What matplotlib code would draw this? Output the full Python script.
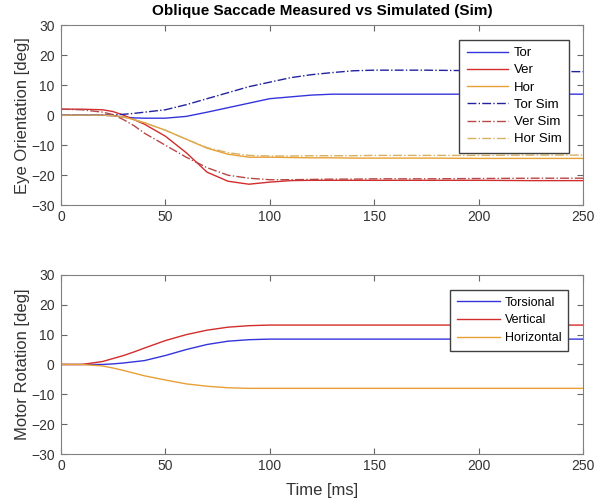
import matplotlib
matplotlib.use("Agg")
import matplotlib.pyplot as plt

plt.rcParams['font.family'] = ['Liberation Sans', 'DejaVu Sans']

# time axis [ms]
t = [0, 10, 20, 25, 30, 35, 40, 50, 60, 70, 80, 90, 100, 110, 120, 130, 140, 150, 175, 200, 225, 250]

# eye orientation, measured
tor = [0, 0, 0, -0.2, -0.6, -0.9, -1.0, -1.0, -0.4, 1.0, 2.5, 4.0, 5.5, 6.1, 6.7, 7.0, 7.0, 7.0, 7.0, 7.0, 7.0, 7.0]
ver = [2.0, 2.0, 1.8, 1.2, 0.0, -1.5, -3.0, -7.0, -12.5, -19.0, -22.0, -23.0, -22.3, -21.8, -21.7, -21.7, -21.7, -21.7, -21.7, -21.7, -21.8, -21.8]
hor = [0, 0, 0, -0.2, -0.6, -1.5, -2.5, -5.0, -8.0, -11.0, -13.0, -14.0, -14.0, -14.1, -14.2, -14.2, -14.3, -14.3, -14.3, -14.4, -14.4, -14.4]

# eye orientation, simulated
tor_sim = [0, 0, 0, 0.1, 0.3, 0.6, 1.0, 1.8, 3.5, 5.5, 7.5, 9.5, 11.0, 12.5, 13.5, 14.2, 14.8, 15.0, 15.0, 14.8, 14.6, 14.5]
ver_sim = [2.0, 1.8, 1.0, 0.2, -1.5, -3.5, -6.0, -10.0, -14.0, -17.5, -20.0, -21.0, -21.5, -21.5, -21.4, -21.3, -21.3, -21.2, -21.2, -21.1, -21.0, -21.0]
hor_sim = [0, 0, 0, -0.2, -0.6, -1.5, -2.5, -5.0, -8.0, -10.8, -12.5, -13.4, -13.6, -13.6, -13.5, -13.5, -13.5, -13.4, -13.4, -13.4, -13.3, -13.3]

# motor rotation
torsional = [0, 0, 0, 0.2, 0.5, 0.9, 1.3, 3.0, 5.0, 6.7, 7.8, 8.3, 8.5, 8.5, 8.5, 8.5, 8.5, 8.5, 8.5, 8.5, 8.5, 8.5]
vertical = [0, 0, 1.0, 2.0, 3.0, 4.2, 5.5, 8.0, 10.0, 11.5, 12.5, 13.0, 13.2, 13.2, 13.2, 13.2, 13.2, 13.2, 13.2, 13.2, 13.2, 13.2]
horizontal = [0, 0, -0.5, -1.2, -2.0, -2.9, -3.8, -5.2, -6.5, -7.3, -7.8, -8.0, -8.0, -8.0, -8.0, -8.0, -8.0, -8.0, -8.0, -8.0, -8.0, -8.0]

c_tor = '#3434dc'
c_ver = '#d22c2c'
c_hor = '#e8a035'
c_tor_sim = '#22229e'
c_ver_sim = '#b84848'
c_hor_sim = '#d8b060'
txt = '#333333'

fig = plt.figure(figsize=(6.03, 5.03), dpi=100)
ax1 = fig.add_axes([0.101, 0.592, 0.866, 0.358])
ax2 = fig.add_axes([0.101, 0.0974, 0.866, 0.356])

ax1.plot(t, tor, color=c_tor, lw=1, label='Tor')
ax1.plot(t, ver, color=c_ver, lw=1, label='Ver')
ax1.plot(t, hor, color=c_hor, lw=1, label='Hor')
ax1.plot(t, tor_sim, color=c_tor_sim, lw=1, ls='-.', label='Tor Sim')
ax1.plot(t, ver_sim, color=c_ver_sim, lw=1, ls='-.', label='Ver Sim')
ax1.plot(t, hor_sim, color=c_hor_sim, lw=1, ls='-.', label='Hor Sim')
ax1.set_title('Oblique Saccade Measured vs Simulated (Sim)', fontsize=11, fontweight='bold', pad=7)
ax1.set_ylabel('Eye Orientation [deg]', fontsize=12, labelpad=1, color=txt)

ax2.plot(t, torsional, color=c_tor, lw=1, label='Torsional')
ax2.plot(t, vertical, color=c_ver, lw=1, label='Vertical')
ax2.plot(t, horizontal, color=c_hor, lw=1, label='Horizontal')
ax2.set_ylabel('Motor Rotation [deg]', fontsize=12, labelpad=1, color=txt)
ax2.set_xlabel('Time [ms]', fontsize=12, labelpad=7, color=txt)

for ax in (ax1, ax2):
    ax.set_xlim(0, 250)
    ax.set_ylim(-30, 30)
    ax.set_xticks([0, 50, 100, 150, 200, 250])
    ax.set_yticks([-30, -20, -10, 0, 10, 20, 30])
    ax.tick_params(direction='in', top=True, right=True, labelsize=10,
                   colors='#666666', labelcolor=txt, length=4)
    ax.tick_params(axis='y', pad=4.5)
    for s in ax.spines.values():
        s.set_color('#808080')

leg1 = ax1.legend(loc='upper right', fontsize=9.5, fancybox=False, framealpha=1,
                  edgecolor='#404040', borderaxespad=1.1, borderpad=0.55,
                  handlelength=3.1, handletextpad=0.45, labelspacing=0.38)
leg1.get_frame().set_linewidth(1.0)

leg2 = ax2.legend(loc='upper right', fontsize=9, fancybox=False, framealpha=1,
                  edgecolor='#404040', borderaxespad=1.2, borderpad=0.55,
                  handlelength=3.4, handletextpad=0.4, labelspacing=0.45)
leg2.get_frame().set_linewidth(1.0)

fig.savefig('out.png', dpi=100)
